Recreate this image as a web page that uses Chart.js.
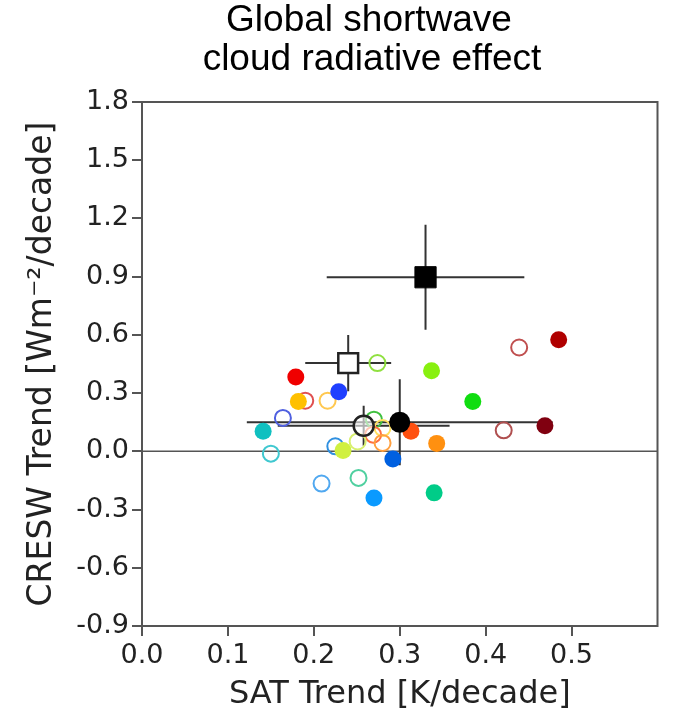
<!DOCTYPE html>
<html>
<head>
<meta charset="utf-8">
<script src="https://cdn.jsdelivr.net/npm/chart.js@4.4.0/dist/chart.umd.min.js"></script>
<style>
  html, body { margin: 0; padding: 0; background: #fff; }
</style>
</head>
<body>
<canvas id="cre" width="674" height="714"></canvas>
<script>
// title lines
const titleLines = ['Global shortwave', 'cloud radiative effect'];

// models, filled markers
const filledX = [0.179, 0.229, 0.182, 0.141, 0.234, 0.292, 0.270, 0.340, 0.313, 0.343, 0.337, 0.385, 0.485, 0.469];
const filledY = [0.383, 0.307, 0.257, 0.103, 0.004, -0.039, -0.240, -0.214, 0.103, 0.041, 0.415, 0.257, 0.575, 0.132];
const filledColors = ['#f00000', '#1f3fff', '#ffc000', '#10c0c0', '#d0f040', '#0060e0', '#0a9aff',
  '#00cc88', '#ff5010', '#ff9010', '#88f010', '#10dd10', '#b00000', '#800010'];

// models, open markers
const openX = [0.274, 0.190, 0.216, 0.164, 0.150, 0.225, 0.209, 0.252, 0.270, 0.280, 0.269, 0.280, 0.251, 0.439, 0.421];
const openY = [0.455, 0.261, 0.261, 0.172, -0.012, 0.026, -0.166, -0.137, 0.163, 0.120, 0.086, 0.043, 0.051, 0.535, 0.108];
const openColors = ['#90e040', '#e05050', '#ffc850', '#5060e0', '#40c8d0', '#3090e0', '#50a8f0',
  '#50d0a0', '#40c040', '#ffe060', '#ff7040', '#ffa040', '#d8f070', '#c05050', '#b05050'];

// observations / means with error bars
const sumNames = ['square filled', 'square open', 'circle filled', 'circle open'];
const sumX = [0.330, 0.240, 0.300, 0.258];
const sumY = [0.897, 0.455, 0.150, 0.132];
const sumXErr = [0.115, 0.050, 0.178, 0.100];
const sumYErr = [0.270, 0.145, 0.222, 0.103];

const xTicks = [0.0, 0.1, 0.2, 0.3, 0.4, 0.5];

const pts = (xs, ys) => xs.map((x, i) => ({ x: x, y: ys[i] }));

// error bars, zero line and frame
const extras = {
  id: 'extras',
  beforeDatasetsDraw(chart) {
    const { ctx, chartArea: a, scales: { x, y } } = chart;
    ctx.save();
    ctx.strokeStyle = '#555';
    ctx.lineWidth = 1.5;
    const y0 = y.getPixelForValue(0);
    ctx.beginPath();
    ctx.moveTo(a.left, y0);
    ctx.lineTo(a.right, y0);
    ctx.stroke();

    ctx.strokeStyle = '#333';
    ctx.lineWidth = 2;
    sumX.forEach((v, i) => {
      const px = x.getPixelForValue(v), py = y.getPixelForValue(sumY[i]);
      ctx.beginPath();
      ctx.moveTo(x.getPixelForValue(v - sumXErr[i]), py);
      ctx.lineTo(x.getPixelForValue(v + sumXErr[i]), py);
      ctx.moveTo(px, y.getPixelForValue(sumY[i] - sumYErr[i]));
      ctx.lineTo(px, y.getPixelForValue(sumY[i] + sumYErr[i]));
      ctx.stroke();
    });
    ctx.restore();
  },
  afterDraw(chart) {
    const { ctx, chartArea: a } = chart;
    ctx.save();
    ctx.strokeStyle = '#555';
    ctx.lineWidth = 2;
    ctx.strokeRect(a.left, a.top, a.right - a.left, a.bottom - a.top);

    ctx.fillStyle = '#000';
    ctx.font = '37px "Liberation Sans", Arial, sans-serif';
    ctx.textAlign = 'center';
    ctx.textBaseline = 'alphabetic';
    ctx.fillText(titleLines[0], 369, 31);
    ctx.fillText(titleLines[1], 372, 70);
    ctx.restore();
  }
};

new Chart(document.getElementById('cre'), {
  type: 'scatter',
  data: {
    datasets: [
      {
        label: 'open models',
        data: pts(openX, openY),
        order: 2,
        pointRadius: 8,
        pointBorderWidth: 2,
        pointBackgroundColor: 'rgba(255,255,255,0)',
        pointBorderColor: openColors
      },
      {
        label: 'filled models',
        data: pts(filledX, filledY),
        order: 1,
        pointRadius: 8.5,
        pointBorderWidth: 0,
        pointBackgroundColor: filledColors,
        pointBorderColor: filledColors
      },
      {
        label: sumNames[0],
        data: [{ x: sumX[0], y: sumY[0] }],
        order: 0,
        pointStyle: 'rect',
        pointRadius: 15,
        pointBorderWidth: 1,
        pointBackgroundColor: '#000',
        pointBorderColor: '#000'
      },
      {
        label: sumNames[1],
        data: [{ x: sumX[1], y: sumY[1] }],
        order: 0,
        pointStyle: 'rect',
        pointRadius: 14,
        pointBorderWidth: 2.5,
        pointBackgroundColor: '#fff',
        pointBorderColor: '#222'
      },
      {
        label: sumNames[2],
        data: [{ x: sumX[2], y: sumY[2] }],
        order: 0,
        pointRadius: 10.5,
        pointBorderWidth: 0,
        pointBackgroundColor: '#000',
        pointBorderColor: '#000'
      },
      {
        label: sumNames[3],
        data: [{ x: sumX[3], y: sumY[3] }],
        order: 0,
        pointRadius: 10,
        pointBorderWidth: 2.5,
        pointBackgroundColor: 'rgba(255,255,255,0.6)',
        pointBorderColor: '#222'
      }
    ]
  },
  options: {
    responsive: false,
    animation: false,
    layout: { padding: { top: 102, right: 8, left: 0, bottom: 0 } },
    plugins: {
      legend: { display: false },
      tooltip: { enabled: false }
    },
    scales: {
      x: {
        type: 'linear',
        min: 0,
        max: 0.6,
        afterFit: s => { s.height = 88; },
        afterBuildTicks: s => { s.ticks = xTicks.map(v => ({ value: v })); },
        border: { display: false },
        grid: {
          drawOnChartArea: false,
          drawTicks: true,
          tickLength: 10,
          lineWidth: 2,
          color: '#555'
        },
        ticks: {
          padding: 4,
          color: '#222',
          font: { family: 'DejaVu Sans', size: 27 },
          callback: v => v.toFixed(1)
        },
        title: {
          display: true,
          text: 'SAT Trend [K/decade]',
          color: '#222',
          font: { family: 'DejaVu Sans', size: 32, lineHeight: 1 },
          padding: { top: 0, bottom: 3 }
        }
      },
      y: {
        type: 'linear',
        min: -0.9,
        max: 1.8,
        afterFit: s => { s.width = 142; },
        border: { display: false },
        grid: {
          drawOnChartArea: false,
          drawTicks: true,
          tickLength: 10,
          lineWidth: 2,
          color: '#555'
        },
        ticks: {
          stepSize: 0.3,
          padding: 3,
          color: '#222',
          font: { family: 'DejaVu Sans', size: 27 },
          callback: v => (Math.abs(v) < 1e-9 ? 0 : v).toFixed(1)
        },
        title: {
          display: true,
          text: 'CRESW Trend [Wm\u207B\u00B2/decade]',
          color: '#222',
          font: { family: 'DejaVu Sans', size: 33, lineHeight: 1 },
          padding: { top: 26, bottom: 0 }
        }
      }
    }
  },
  plugins: [extras]
});
</script>
</body>
</html>
